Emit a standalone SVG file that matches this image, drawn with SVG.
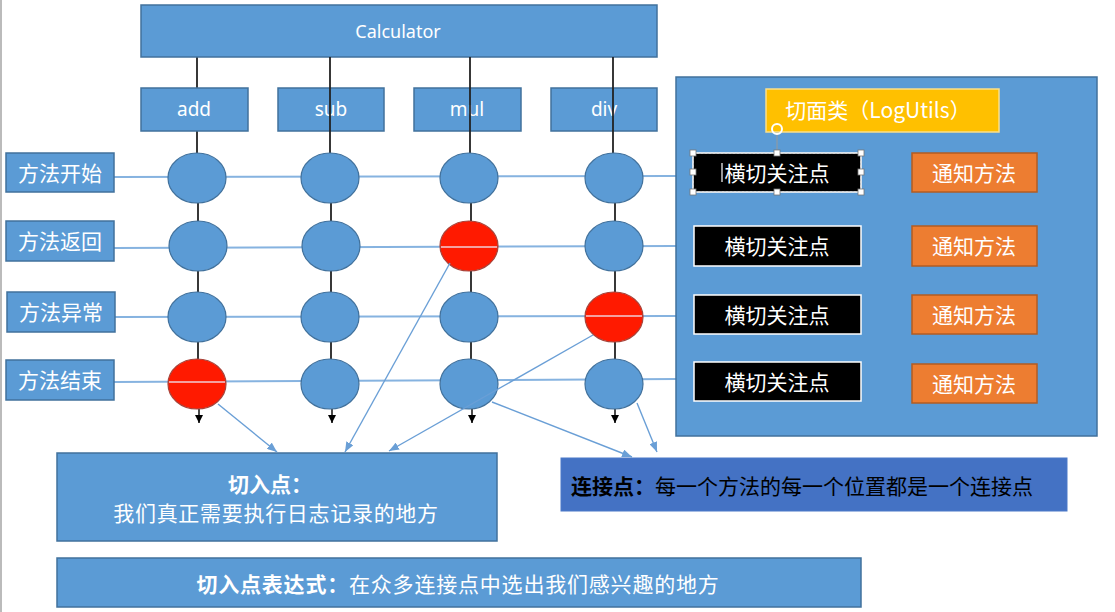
<svg xmlns="http://www.w3.org/2000/svg" width="1115" height="612" viewBox="0 0 1115 612">
<defs>
<style>
.blue{fill:#5b9bd5;stroke:#41719c;stroke-width:1.5}
.red{fill:#ff1a00;stroke:#a8433a;stroke-width:1.2}
.node{fill:#5b9bd5;stroke:#41719c;stroke-width:1.2}
.blk{fill:#000;stroke:#fff;stroke-width:1.5}
.org{fill:#ed7d31;stroke:#b35c22;stroke-width:1.5}
.t{font-family:"Noto Sans","Noto Sans CJK SC",sans-serif;fill:#fff;text-anchor:middle;dominant-baseline:central}
.zh{font-family:"Noto Sans CJK SC","Noto Sans",sans-serif;fill:#fff;font-size:21px;text-anchor:middle;dominant-baseline:central}
.vl{stroke:#222;stroke-width:1.8;fill:none}
.hl{stroke:#86b3e0;stroke-width:2;fill:none}
.hr{stroke:#f4a0a0;stroke-width:2;fill:none}
.cn{stroke:#6a9fd6;stroke-width:1.4;fill:none;marker-end:url(#ab)}
.dn{stroke:#000;stroke-width:1.4;fill:none;marker-end:url(#ak)}
.hd{fill:#fff;stroke:#777;stroke-width:0.8}
</style>
<marker id="ab" markerUnits="userSpaceOnUse" markerWidth="10" markerHeight="8" refX="10" refY="4" orient="auto"><path d="M0,0 L10,4 L0,8 z" fill="#6a9fd6"/></marker>
<marker id="ak" markerUnits="userSpaceOnUse" markerWidth="8" markerHeight="8" refX="8" refY="4" orient="auto"><path d="M0,0 L8,4 L0,8 z" fill="#000"/></marker>
</defs>
<rect width="1115" height="612" fill="#fff"/>
<line x1="1" y1="0" x2="1" y2="612" stroke="#bbb" stroke-width="2"/>

<g id="connectors-vertical">
<line class="vl" x1="197" y1="57" x2="197" y2="88"/>
<line class="vl" x1="197" y1="131" x2="197" y2="153"/>
</g>

<g id="calculator"><rect class="blue" x="141" y="5" width="516" height="52"/><text class="t" x="398" y="31" font-size="18">Calculator</text></g>
<g id="add"><rect class="blue" x="141" y="88" width="107" height="43"/><text class="t" x="194" y="109" font-size="19">add</text></g>
<g id="sub"><rect class="blue" x="278" y="88" width="106" height="43"/><text class="t" x="331" y="109" font-size="19">sub</text></g>
<g id="mul"><rect class="blue" x="414" y="88" width="107" height="43"/><text class="t" x="467" y="109" font-size="19">mul</text></g>
<g id="div"><rect class="blue" x="551" y="88" width="106" height="43"/><text class="t" x="604" y="109" font-size="19">div</text></g>

<g id="connectors">
<line class="vl" x1="330" y1="57" x2="330" y2="153"/>
<line class="vl" x1="470" y1="57" x2="470" y2="153"/>
<line class="vl" x1="613" y1="57" x2="613" y2="153"/>
<g>
<line class="vl" x1="198" y1="203" x2="198" y2="221"/><line class="vl" x1="198" y1="271" x2="198" y2="292"/><line class="vl" x1="198" y1="342" x2="198" y2="359"/>
<line class="vl" x1="331" y1="203" x2="331" y2="221"/><line class="vl" x1="331" y1="271" x2="331" y2="292"/><line class="vl" x1="331" y1="342" x2="331" y2="359"/>
<line class="vl" x1="471" y1="203" x2="471" y2="221"/><line class="vl" x1="471" y1="271" x2="471" y2="292"/><line class="vl" x1="471" y1="342" x2="471" y2="359"/>
<line class="vl" x1="615" y1="203" x2="615" y2="221"/><line class="vl" x1="615" y1="271" x2="615" y2="292"/><line class="vl" x1="615" y1="342" x2="615" y2="359"/>
</g>
<line class="dn" x1="199" y1="409" x2="199" y2="423"/>
<line class="dn" x1="332" y1="409" x2="332" y2="423"/>
<line class="dn" x1="472" y1="409" x2="472" y2="423"/>
<line class="dn" x1="615" y1="409" x2="615" y2="423"/>
<line class="hl" x1="114" y1="177" x2="676" y2="176"/>
<line class="hl" x1="114" y1="248" x2="676" y2="246"/>
<line class="hl" x1="115" y1="317" x2="676" y2="316"/>
<line class="hl" x1="114" y1="382" x2="676" y2="379"/>
</g>

<g id="ellipses">
<ellipse class="node" cx="197" cy="178" rx="29" ry="25"/>
<ellipse class="node" cx="330" cy="178" rx="29" ry="25"/>
<ellipse class="node" cx="469" cy="178" rx="29" ry="25"/>
<ellipse class="node" cx="614" cy="178" rx="29" ry="25"/>
<ellipse class="node" cx="198" cy="246" rx="29" ry="25"/>
<ellipse class="node" cx="331" cy="246" rx="29" ry="25"/>
<ellipse class="red" cx="469" cy="246" rx="29" ry="25"/>
<ellipse class="node" cx="614" cy="246" rx="29" ry="25"/>
<ellipse class="node" cx="197" cy="317" rx="29" ry="25"/>
<ellipse class="node" cx="330" cy="317" rx="29" ry="25"/>
<ellipse class="node" cx="469" cy="317" rx="29" ry="25"/>
<ellipse class="red" cx="614" cy="317" rx="29" ry="25"/>
<ellipse class="red" cx="197" cy="384" rx="29" ry="25"/>
<ellipse class="node" cx="330" cy="384" rx="29" ry="25"/>
<ellipse class="node" cx="469" cy="384" rx="29" ry="25"/>
<ellipse class="node" cx="614" cy="384" rx="29" ry="25"/>
<line class="hr" x1="441" y1="247" x2="497" y2="247"/>
<line class="hr" x1="586" y1="316" x2="642" y2="316"/>
<line class="hr" x1="169" y1="382" x2="225" y2="382"/>
</g>

<g id="label-start"><rect class="blue" x="6" y="153" width="108" height="39"/><text class="zh" x="60" y="172">方法开始</text></g>
<g id="label-return"><rect class="blue" x="6" y="221" width="108" height="40"/><text class="zh" x="60" y="240">方法返回</text></g>
<g id="label-exception"><rect class="blue" x="7" y="292" width="108" height="40"/><text class="zh" x="61" y="311">方法异常</text></g>
<g id="label-end"><rect class="blue" x="6" y="360" width="108" height="40"/><text class="zh" x="60" y="379">方法结束</text></g>

<g id="aspect-panel"><rect class="blue" x="676" y="77" width="421" height="359"/></g>
<g id="aspect-class"><rect x="766" y="89" width="233" height="43" fill="#ffc000" stroke="#fbe08a" stroke-width="1.5"/><text class="zh" x="878" y="109" font-size="20.5">切面类（LogUtils）</text></g>

<g id="pointcut-1">
<rect class="blk" x="693" y="153" width="168" height="39"/>
<rect x="693" y="153" width="168" height="39" fill="none" stroke="#ddd" stroke-width="1" stroke-dasharray="2,2"/>
<text class="zh" x="777" y="172">横切关注点</text>
<line x1="722" y1="163" x2="722" y2="182" stroke="#fff" stroke-width="1.2"/>
<line x1="777" y1="134" x2="777" y2="153" stroke="#999" stroke-width="1"/>
<circle cx="777" cy="129" r="5" fill="none" stroke="#fff" stroke-width="2"/>
<rect class="hd" x="690" y="150" width="6" height="6"/><rect class="hd" x="774" y="150" width="6" height="6"/><rect class="hd" x="858" y="150" width="6" height="6"/>
<rect class="hd" x="690" y="169" width="6" height="6"/><rect class="hd" x="858" y="169" width="6" height="6"/>
<rect class="hd" x="690" y="189" width="6" height="6"/><rect class="hd" x="774" y="189" width="6" height="6"/><rect class="hd" x="858" y="189" width="6" height="6"/>
</g>
<g id="pointcut-2"><rect class="blk" x="694" y="226" width="167" height="40"/><text class="zh" x="777" y="245">横切关注点</text></g>
<g id="pointcut-3"><rect class="blk" x="694" y="295" width="167" height="39"/><text class="zh" x="777" y="314">横切关注点</text></g>
<g id="pointcut-4"><rect class="blk" x="694" y="362" width="167" height="39"/><text class="zh" x="777" y="381">横切关注点</text></g>

<g id="advice-1"><rect class="org" x="912" y="153" width="125" height="39"/><text class="zh" x="974" y="172" font-size="22">通知方法</text></g>
<g id="advice-2"><rect class="org" x="912" y="226" width="125" height="40"/><text class="zh" x="974" y="245" font-size="22">通知方法</text></g>
<g id="advice-3"><rect class="org" x="912" y="295" width="125" height="39"/><text class="zh" x="974" y="314" font-size="22">通知方法</text></g>
<g id="advice-4"><rect class="org" x="912" y="364" width="125" height="39"/><text class="zh" x="974" y="383" font-size="22">通知方法</text></g>

<g id="pointcut-box"><rect class="blue" x="57" y="453" width="440" height="88"/>
<text class="zh" x="270" y="483" font-weight="bold" font-size="20">切入点：</text>
<text class="zh" x="276" y="512" letter-spacing="0.7">我们真正需要执行日志记录的地方</text></g>

<g id="joinpoint-box"><rect x="561" y="458" width="506" height="53" fill="#4472c4" stroke="#4a78c8" stroke-width="1"/>
<text x="571" y="485" font-family="'Noto Sans CJK SC',sans-serif" font-size="21" fill="#000" dominant-baseline="central"><tspan font-weight="bold">连接点：</tspan>每一个方法的每一个位置都是一个连接点</text></g>

<g id="expression-box"><rect class="blue" x="57" y="558" width="804" height="49"/>
<text class="zh" x="458" y="583" letter-spacing="0.8"><tspan font-weight="bold">切入点表达式：</tspan>在众多连接点中选出我们感兴趣的地方</text></g>

<g id="connectors-diagonal">
<line class="cn" x1="218" y1="404" x2="277" y2="452"/>
<line class="cn" x1="450" y1="263" x2="345" y2="452"/>
<line class="cn" x1="593" y1="335" x2="389" y2="451"/>
<line class="cn" x1="492" y1="402" x2="632" y2="457"/>
<line class="cn" x1="637" y1="403" x2="657" y2="452"/>
</g>
</svg>
